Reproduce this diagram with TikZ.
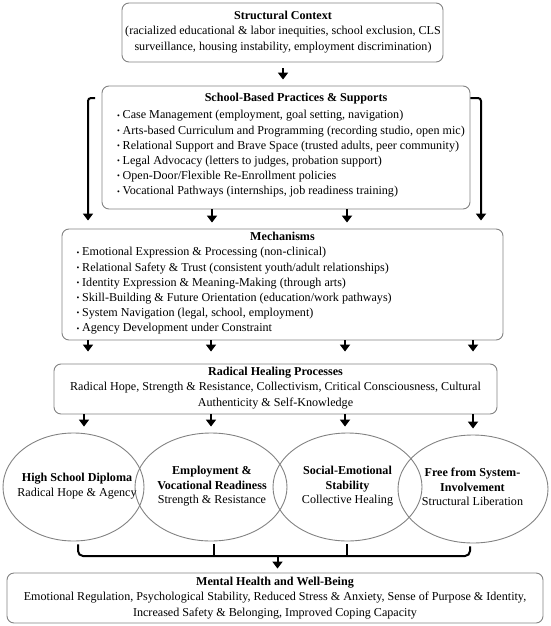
\documentclass[tikz,border=0pt]{standalone}
\usepackage{fontspec}
\setmainfont{Liberation Serif}
\usepackage{graphicx}
\usetikzlibrary{arrows.meta,shapes.geometric}
\definecolor{boxgray}{RGB}{130,130,130}
\newcommand{\bul}{\makebox[5.5pt][l]{\fontsize{8}{8}\selectfont\raisebox{0.8pt}{•}}}
\begin{document}
\begin{tikzpicture}[x=1pt,y=-1pt,
  box/.style={draw=boxgray, line width=0.9pt, rounded corners=7pt, inner sep=0pt},
  txt/.style={inner sep=0pt, font=\fontsize{12.1}{15.2}\selectfont},
  ttl/.style={inner sep=0pt, font=\fontsize{12.1}{15.2}\selectfont\bfseries, anchor=base},
  etxt/.style={inner sep=0pt, align=center, font=\fontsize{12.1}{14.6}\selectfont},
  arr/.style={line width=2pt, -{Triangle[width=10pt,length=7pt]}},
  brk/.style={line width=2pt},
  ell/.style={draw=boxgray, line width=0.9pt, ellipse, inner sep=0pt}]
\useasboundingbox (0,0) rectangle (550,626);

% boxes
\node[box, minimum width=321pt, minimum height=59pt] (ctx) at (282.5,32.5) {};
\node[box, minimum width=368pt, minimum height=123pt] (school) at (286,147.5) {};
\node[box, minimum width=441pt, minimum height=111pt] (mech) at (282.5,284.5) {};
\node[box, minimum width=443pt, minimum height=50pt] (rad) at (275.5,389) {};
\node[box, minimum width=536pt, minimum height=50pt] (mh) at (275,598) {};

% texts
\node[txt, align=center] (ctxt) at (283,32) {\textbf{Structural Context}\\(racialized educational \& labor inequities, school exclusion, CLS\\surveillance, housing instability, employment discrimination)};

\node[ttl] (schoolttl) at (296,101.8) {School-Based Practices \& Supports};
\node[txt, align=left, anchor=west] (schoollist) at (117,154) {\bul Case Management (employment, goal setting, navigation)\\
\bul Arts-based Curriculum and Programming (recording studio, open mic)\\
\bul Relational Support and Brave Space (trusted adults, peer community)\\
\bul Legal Advocacy (letters to judges, probation support)\\
\bul Open-Door/Flexible Re-Enrollment policies\\
\bul Vocational Pathways (internships, job readiness training)};

\node[ttl] (mechttl) at (282.5,240.8) {Mechanisms};
\node[txt, align=left, anchor=west] (mechlist) at (76.5,291) {\bul Emotional Expression \& Processing (non-clinical)\\
\bul Relational Safety \& Trust (consistent youth/adult relationships)\\
\bul Identity Expression \& Meaning-Making (through arts)\\
\bul Skill-Building \& Future Orientation (education/work pathways)\\
\bul System Navigation (legal, school, employment)\\
\bul Agency Development under Constraint};

\node[txt, align=center] (radt) at (275.5,388) {\textbf{Radical Healing Processes}\\Radical Hope, Strength \& Resistance, Collectivism, Critical Consciousness, Cultural\\Authenticity \& Self-Knowledge};

\node[txt, align=center] (mht) at (275,598) {\textbf{Mental Health and Well-Being}\\Emotional Regulation, Psychological Stability, Reduced Stress \& Anxiety, Sense of Purpose \& Identity,\\Increased Safety \& Belonging, Improved Coping Capacity};

% ellipses
\node[ell, minimum width=141pt, minimum height=108pt] (e1) at (73.5,487) {};
\node[ell, minimum width=152pt, minimum height=108pt] (e2) at (211,487) {};
\node[ell, minimum width=149pt, minimum height=108pt] (e3) at (347.5,487) {};
\node[ell, minimum width=150pt, minimum height=108pt] (e4) at (473,489) {};

\node[etxt] (e1t) at (77,486) {\textbf{High School Diploma}\\Radical Hope \& Agency};
\node[etxt] (e2t) at (212,486.5) {\textbf{Employment \&}\\\textbf{Vocational Readiness}\\Strength \& Resistance};
\node[etxt] (e3t) at (347.5,486.5) {\textbf{Social-Emotional}\\\textbf{Stability}\\Collective Healing};
\node[etxt] (e4t) at (472.5,487) {\textbf{Free from System-}\\\textbf{Involvement}\\Structural Liberation};

% connectors
\draw[arr, shorten <=6pt, shorten >=6pt] (ctx.south -| 283,0) -- (school.north -| 283,0);

\coordinate (lbs) at (95,98);
\coordinate (lbc) at (88,98);
\coordinate (rbc) at (481,98);
\draw[arr, rounded corners=3pt, shorten >=8pt] (lbs) -- (lbc) -- (lbc |- mech.north);
\draw[arr, rounded corners=3pt, shorten >=8pt] (school.east |- rbc) -- (rbc) -- (rbc |- mech.north);
\draw[arr, shorten >=6pt] (school.south -| 212,0) -- (mech.north -| 212,0);
\draw[arr, shorten >=6pt] (school.south -| 347,0) -- (mech.north -| 347,0);

\foreach \xx in {88,211,345,473}{
  \draw[arr, shorten >=12pt] (mech.south -| \xx,0) -- (rad.north -| \xx,0);
}
\draw[arr, shorten >=6pt] (rad.south -| 84,0) -- (e1.north -| 84,0);
\draw[arr, shorten >=6pt] (rad.south -| 211,0) -- (e2.north -| 211,0);
\draw[arr, shorten >=6pt] (rad.south -| 345,0) -- (e3.north -| 345,0);
\draw[arr, shorten >=6pt] (rad.south -| 473,0) -- (e4.north -| 473,0);

\coordinate (bl) at (78,556);
\coordinate (br) at (470,556);
\coordinate (bm) at (277.5,556);
\draw[brk, rounded corners=5pt, shorten <=3pt, shorten >=3pt] (e1.south -| bl) -- (bl) -- (br) -- (e4.south -| br);
\draw[brk, shorten <=3pt] (e2.south -| 214,0) -- (214,556);
\draw[brk, shorten <=3pt] (e3.south -| 347,0) -- (347,556);
\draw[arr, shorten >=4pt] (bm) -- (mh.north -| bm);
\end{tikzpicture}
\end{document}
